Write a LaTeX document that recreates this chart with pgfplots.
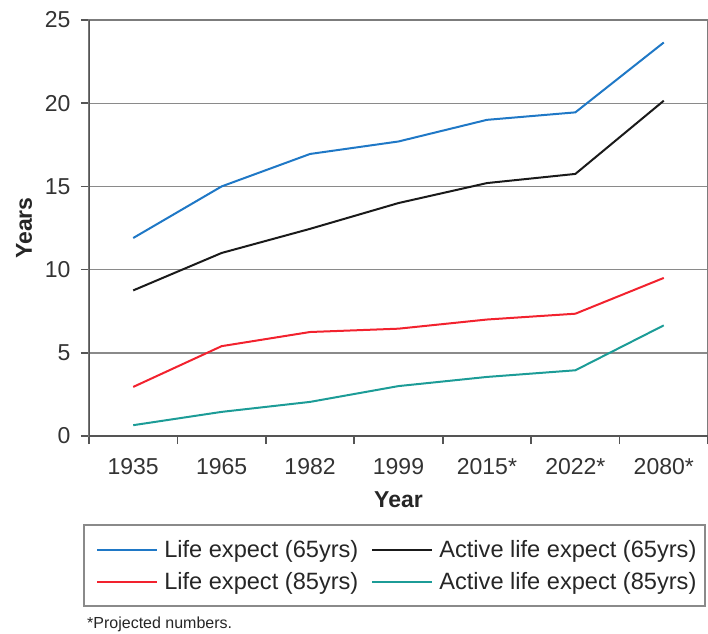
\documentclass[border=0pt]{standalone}
\usepackage{fontspec}
\setmainfont{Liberation Sans}
\usepackage{pgfplots}
\pgfplotsset{compat=1.18}
\definecolor{cblue}{HTML}{1F78C6}
\definecolor{cblack}{HTML}{1A1A1A}
\definecolor{cred}{HTML}{F2222E}
\definecolor{cteal}{HTML}{1C9C97}
\definecolor{cgrid}{HTML}{8A8A8A}
\definecolor{caxis}{HTML}{555555}
\begin{document}
\begin{tikzpicture}
\path[use as bounding box] (-89pt,-197pt) rectangle (619pt,436pt);
\begin{axis}[
  at={(0,0)}, anchor=south west,
  width=619pt, height=416pt, scale only axis,
  xmin=-0.5, xmax=6.5, ymin=0, ymax=25,
  xtick={0,...,6},
  xticklabels={1935,1965,1982,1999,2015*,2022*,2080*},
  minor xtick={-0.5,0.5,...,6.5},
  ytick={0,5,...,25},
  tick align=outside, tick pos=left,
  major tick length=8pt, minor tick length=8pt,
  tick style={draw=caxis, line width=1.6pt},
  major x tick style={draw=none},
  ymajorgrids, grid style={draw=cgrid, line width=1.4pt},
  axis line style={draw=cgrid!90!black, line width=1.4pt},
  /pgf/number format/assume math mode=true,
  ticklabel style={font=\fontsize{23}{26}\selectfont, text=black!80},
  xticklabel style={yshift=-11pt},
  yticklabel style={xshift=-7pt},
  xlabel={\textbf{Year}}, ylabel={\textbf{Years}},
  label style={font=\fontsize{23}{26}\selectfont, text=black!85},
  x label style={at={(axis description cs:0.5,-0.154)}, anchor=center},
  y label style={at={(axis description cs:-0.105,0.5)}, anchor=center},
  legend columns=2,
  legend cell align=left,
  legend image code/.code={\draw[#1, line width=2pt] (0pt,0pt) -- (60pt,0pt);},
  legend style={at={(rel axis cs:-0.008,-0.214)}, anchor=north west,
    draw=none, fill=none, text=black!85,
    font=\fontsize{23.6}{26}\selectfont,
    inner xsep=12pt, inner ysep=13pt, row sep=10pt,
    /tikz/every odd column/.append style={column sep=4pt},
    /tikz/every even column/.append style={column sep=11pt}},
  every axis plot/.append style={line width=2pt},
]
\addplot[cblue] coordinates {(0,11.9) (1,15.0) (2,16.95) (3,17.7) (4,19.0) (5,19.45) (6,23.65)};
\addlegendentry{Life expect (65yrs)}
\addplot[cblack] coordinates {(0,8.75) (1,11.0) (2,12.45) (3,14.0) (4,15.2) (5,15.75) (6,20.15)};
\addlegendentry{Active life expect (65yrs)}
\addplot[cred] coordinates {(0,2.95) (1,5.4) (2,6.25) (3,6.45) (4,7.0) (5,7.35) (6,9.5)};
\addlegendentry{Life expect (85yrs)}
\addplot[cteal] coordinates {(0,0.65) (1,1.45) (2,2.05) (3,3.0) (4,3.55) (5,3.95) (6,6.65)};
\addlegendentry{Active life expect (85yrs)}
\draw[caxis, line width=1.6pt] (rel axis cs:0,0) -- (rel axis cs:0,1);
\draw[caxis, line width=1.6pt] (rel axis cs:0,0) -- (rel axis cs:1,0);
\end{axis}
\draw[cgrid, line width=1.8pt] (-5pt,-89pt) rectangle (616pt,-170pt);
\node[anchor=west, inner sep=0pt, font=\fontsize{16}{18}\selectfont, text=black!85] at (-2pt,-188pt) {*Projected numbers.};
\end{tikzpicture}
\end{document}
